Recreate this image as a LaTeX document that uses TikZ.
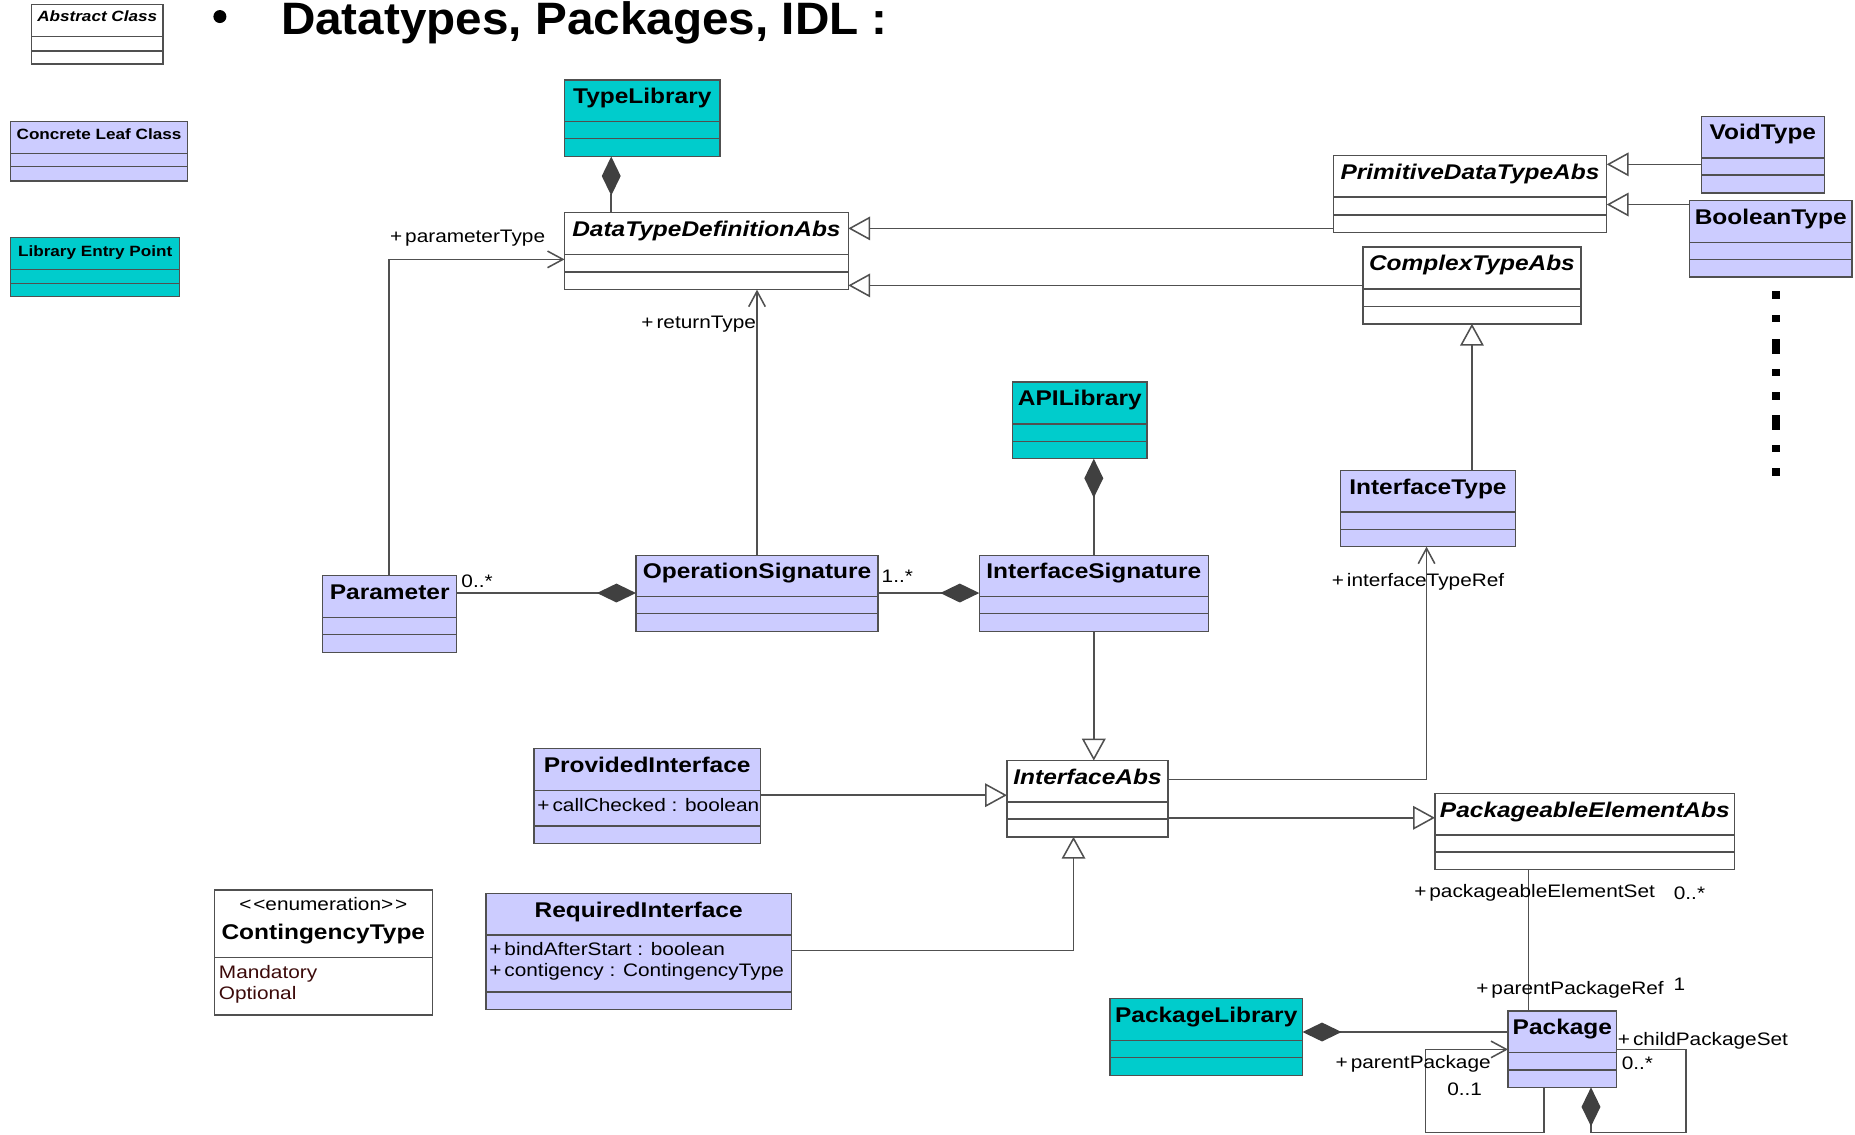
\documentclass[tikz,border=0pt]{standalone}
\usepackage{fontspec}
\setmainfont{Liberation Sans}[FakeStretch=1.15]
\newfontfamily\titlefont{Liberation Sans}[FakeStretch=1.05]
\usetikzlibrary{arrows.meta}
\definecolor{lav}{HTML}{CCCCFF}
\definecolor{teal2}{HTML}{00CCCC}
\definecolor{bord}{HTML}{505050}
\definecolor{lc}{HTML}{505050}
\definecolor{dg}{HTML}{404040}
\definecolor{maroon2}{HTML}{3C0A0A}
\newcommand\pl{+\kern2.5pt}
\tikzset{
  box/.style={draw=bord, line width=1.2pt, inner sep=0pt, outer sep=0pt, anchor=north west},
  abs/.style={box, fill=white},
  leaf/.style={box, fill=lav},
  lib/.style={box, fill=teal2},
  cline/.style={draw=bord, line width=1.2pt},
  ttl/.style={font=\fontsize{18}{20}\selectfont\bfseries, anchor=base, inner sep=0pt},
  lgd/.style={font=\fontsize{12.6}{14}\selectfont\bfseries, anchor=base, inner sep=0pt},
  lbl/.style={font=\fontsize{15.3}{17}\selectfont, anchor=base, inner sep=0pt},
  attr/.style={font=\fontsize{15.3}{17}\selectfont, anchor=base west, inner sep=0pt},
  conn/.style={draw=lc, line width=1.3pt},
  gen/.style={conn, -{Triangle[length=18.5pt,width=20pt,fill=white]}},
  nav/.style={conn, -{Straight Barb[length=13pt,width=14pt]}},
  comp/.style={conn, -{Diamond[length=33pt,width=16pt,fill=dg,color=dg]}},
}
% #1 name, #2 style, #3 x1, #4 y1, #5 x2, #6 y2, #7 line1, #8 line2
\newcommand\umlcls[8]{%
  \node[#2, minimum width={#5pt-#3pt}, minimum height={#6pt-#4pt}] (#1) at (#3,#4) {};
  \draw[cline] (#3,#7) -- (#5,#7);
  \draw[cline] (#3,#8) -- (#5,#8);
}
\begin{document}
\begin{tikzpicture}[x=1pt,y=-1pt]
\useasboundingbox (0,0) rectangle (1569,960);

% ---------- legend ----------
\umlcls{LgA}{abs}{26.5}{4}{138}{54}{31}{43}
\node[lgd, yshift=-14.6pt] (LgA-t) at (LgA.north) {\itshape Abstract Class};
\umlcls{LgC}{leaf}{9}{103}{158.5}{153}{129.6}{141}
\node[lgd, yshift=-15.3pt] (LgC-t) at (LgC.north) {Concrete Leaf Class};
\umlcls{LgL}{lib}{9}{201}{152}{251}{228}{240}
\node[lgd, yshift=-16pt] (LgL-t) at (LgL.north) {Library Entry Point};

% ---------- title ----------
\fill (186,14) circle (5.5);
\node[anchor=base west, inner sep=0pt, font=\titlefont\fontsize{38.4}{40}\selectfont\bfseries] (title) at (237.5,29) {Datatypes, Packages, IDL :};

% ---------- classes ----------
\umlcls{TL}{lib}{477.5}{67.6}{609}{132.4}{102.8}{117.2}
\node[ttl, yshift=-20pt] (TL-t) at (TL.north) {TypeLibrary};
\umlcls{DTD}{abs}{477.5}{179.7}{717.5}{245}{215.5}{230}
\node[ttl, yshift=-20pt] (DTD-t) at (DTD.north) {\itshape DataTypeDefinitionAbs};
\umlcls{Prim}{abs}{1127.7}{131.5}{1359}{196.6}{166.8}{181.7}
\node[ttl, yshift=-20pt] (Prim-t) at (Prim.north) {\itshape PrimitiveDataTypeAbs};
\umlcls{Void}{leaf}{1439}{98.3}{1543}{163.4}{133.5}{148}
\node[ttl, yshift=-20pt] (Void-t) at (Void.north) {VoidType};
\umlcls{Bool}{leaf}{1429}{169.6}{1566.4}{234.4}{205}{219.4}
\node[ttl, yshift=-20pt] (Bool-t) at (Bool.north) {BooleanType};
\umlcls{Cplx}{abs}{1152.7}{209}{1337.3}{273.9}{244.5}{259.2}
\node[ttl, yshift=-20pt] (Cplx-t) at (Cplx.north) {\itshape ComplexTypeAbs};
\umlcls{IType}{leaf}{1133.9}{397.9}{1281.6}{462.4}{433}{448}
\node[ttl, yshift=-20pt] (IType-t) at (IType.north) {InterfaceType};
\umlcls{API}{lib}{856.5}{323.2}{970.2}{388}{358.7}{373.4}
\node[ttl, yshift=-20pt] (API-t) at (API.north) {APILibrary};
\umlcls{Par}{leaf}{273}{487}{386.3}{551.7}{522.2}{536.5}
\node[ttl, yshift=-20pt] (Par-t) at (Par.north) {Parameter};
\umlcls{OpS}{leaf}{537.9}{469.7}{742.8}{534}{504.4}{519}
\node[ttl, yshift=-20pt] (OpS-t) at (OpS.north) {OperationSignature};
\umlcls{ISig}{leaf}{828.3}{469.7}{1022}{534}{504.4}{519}
\node[ttl, yshift=-20pt] (ISig-t) at (ISig.north) {InterfaceSignature};
\umlcls{PI}{leaf}{451.7}{633.2}{643}{713.5}{668.4}{698.8}
\node[ttl, yshift=-20pt] (PI-t) at (PI.north) {ProvidedInterface};
\node[attr] (PI-a) at (454.4,686) {\pl callChecked : boolean};
\umlcls{IAbs}{abs}{851.7}{643.3}{988}{707.8}{678.3}{692.6}
\node[ttl, yshift=-20pt] (IAbs-t) at (IAbs.north) {\itshape InterfaceAbs};
\umlcls{RI}{leaf}{411}{755.7}{669.4}{853.8}{791}{839.2}
\node[ttl, yshift=-20pt] (RI-t) at (RI.north) {RequiredInterface};
\node[attr] (RI-a1) at (413.7,808) {\pl bindAfterStart : boolean};
\node[attr] (RI-a2) at (413.7,826) {\pl contigency : ContingencyType};
\node[box, fill=white, minimum width={184.3pt}, minimum height={105.7pt}] (CT) at (181.3,752.9) {};
\draw[cline] (181.3,810.1) -- (365.6,810.1);
\node[lbl, yshift=-17pt] (CT-s) at (CT.north) {<\kern1.5pt<enumeration>\kern1.5pt>};
\node[ttl, yshift=-42pt] (CT-t) at (CT.north) {ContingencyType};
\node[attr, text=maroon2] (CT-a1) at (185,828) {Mandatory};
\node[attr, text=maroon2] (CT-a2) at (185,845) {Optional};
\umlcls{PEA}{abs}{1213.7}{671.1}{1467.3}{735.4}{706.1}{720.7}
\node[ttl, yshift=-20pt] (PEA-t) at (PEA.north) {\itshape PackageableElementAbs};
\umlcls{PL}{lib}{938.8}{844.7}{1101.7}{909.5}{880}{894.6}
\node[ttl, yshift=-20pt] (PL-t) at (PL.north) {PackageLibrary};
\umlcls{Pkg}{leaf}{1275.5}{855.2}{1367.5}{919.7}{890.4}{905}
\node[ttl, yshift=-20pt] (Pkg-t) at (Pkg.north) {Package};

% ---------- connectors ----------
\draw[comp] (DTD.north -| 517,0) -- (TL.south -| 517,0);
\draw[nav] (Par.north -| 328.9,0) -- (328.9,219.4) -- (DTD.west |- 0,219.4);
\draw[nav] (OpS.north -| 640.3,0) -- (DTD.south -| 640.3,0);
\draw[gen] (Prim.west |- 0,193.2) -- (DTD.east |- 0,193.2);
\draw[gen] (Cplx.west |- 0,241.4) -- (DTD.east |- 0,241.4);
\draw[gen] (Void.west |- 0,139) -- (Prim.east |- 0,139);
\draw[gen] (Bool.west |- 0,173) -- (Prim.east |- 0,173);
\draw[gen] (IType.north -| Cplx.south) -- (Cplx.south);
\draw[comp] (ISig.north) -- (API.south -| ISig.north);
\draw[comp] (Par.east |- 0,501.6) -- (OpS.west |- 0,501.6);
\draw[comp] (OpS.east |- 0,501.6) -- (ISig.west |- 0,501.6);
\draw[gen] (ISig.south) -- (IAbs.north -| ISig.south);
\draw[gen] (PI.east |- 0,672.6) -- (IAbs.west |- 0,672.6);
\draw[gen] (RI.east |- 0,804) -| (IAbs.south -| 908,0);
\draw[nav] (IAbs.east |- 0,659.3) -| (IType.south -| 1206.6,0);
\draw[gen] (IAbs.east |- 0,691.7) -- (PEA.west |- 0,691.7);
\draw[conn] (PEA.south -| 1292.7,0) -- (Pkg.north -| 1292.7,0);
\draw[comp] (Pkg.west |- 0,872.9) -- (PL.east |- 0,872.9);
\draw[nav] (Pkg.south -| 1306.1,0) -- (1306.1,958) -- (1205.8,958) -- (1205.8,887.6) -- (Pkg.west |- 0,887.6);
\draw[comp] (Pkg.east |- 0,887.6) -- (1426,887.6) -- (1426,958) -- (1345.7,958) -- (Pkg.south -| 1345.7,0);

% ---------- connector labels ----------
\node[lbl] (l1) at (395.5,205) {\pl parameterType};
\node[lbl] (l2) at (591,278) {\pl returnType};
\node[lbl] (l3) at (403.5,496.5) {0..*};
\node[lbl] (l4) at (759,493) {1..*};
\node[lbl] (l5) at (1199.4,496) {\pl interfaceTypeRef};
\node[lbl] (l6) at (1298,759) {\pl packageableElementSet};
\node[lbl] (l7) at (1429,761) {0..*};
\node[lbl] (l8) at (1328,841) {\pl parentPackageRef};
\node[lbl] (l9) at (1420.5,838) {1};
\node[lbl] (l10) at (1195.3,904) {\pl parentPackage};
\node[lbl] (l11) at (1238.8,927) {0..1};
\node[lbl] (l12) at (1440.4,884) {\pl childPackageSet};
\node[lbl] (l13) at (1385,905) {0..*};

% ---------- continuation dots ----------
\foreach \a/\b in {246.5/253, 266.3/272.7, 286.8/299.2, 311.9/318.4, 331.6/338, 350.8/364, 376/382.6, 395.9/402.4}
  \fill[black] (1498.5,\a) rectangle (1505.6,\b);
\end{tikzpicture}
\end{document}
